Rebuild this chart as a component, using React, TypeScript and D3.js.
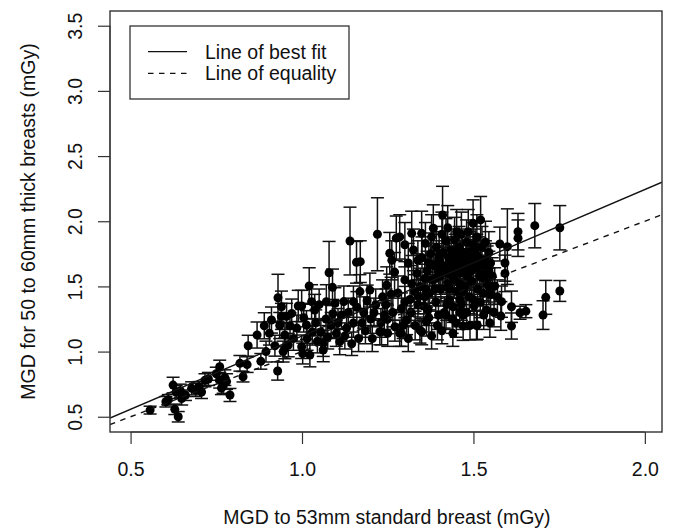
import React, { useEffect, useRef } from "react";
import * as d3 from "d3";

// MGD to 53mm standard breast (x), MGD for 50-60mm breasts (y), error bar half-length
const xVals = [
  0.557, 0.603, 0.61, 0.629, 0.639, 0.624, 0.633, 0.645, 0.649, 0.66,
  0.678, 0.69, 0.707, 0.7, 0.717, 0.727, 0.75, 0.76, 0.76, 0.77,
  0.78, 0.765, 0.79, 0.775, 0.819, 0.828, 0.84, 0.843, 0.869, 0.88,
  0.89, 0.911, 0.921, 0.929, 0.93, 0.94, 0.94, 0.945, 0.95, 0.95,
  0.955, 0.965, 0.97, 0.975, 0.989, 0.999, 0.999, 1.002, 1.013, 1.021,
  1.028, 1.037, 1.023, 1.03, 1.045, 1.062, 1.062, 1.071, 1.07, 1.079,
  1.089, 1.085, 1.096, 1.1, 1.11, 1.115, 1.122, 1.14, 1.13, 1.15,
  1.15, 1.159, 1.17, 1.169, 1.165, 1.18, 1.185, 1.198, 1.2, 1.22,
  1.215, 1.227, 1.235, 1.247, 1.24, 1.256, 1.262, 1.27, 1.271, 1.275,
  1.285, 1.285, 1.28, 1.29, 1.3, 1.305, 1.31, 1.32, 1.315, 1.325,
  1.33, 1.335, 1.344, 1.349, 1.349, 1.345, 1.35, 1.355, 1.363, 1.36,
  1.365, 1.37, 1.372, 1.375, 1.38, 1.383, 1.385, 1.39, 1.392, 1.395,
  1.4, 1.402, 1.405, 1.41, 1.412, 1.415, 1.418, 1.42, 1.425, 1.428,
  1.43, 1.432, 1.435, 1.438, 1.441, 1.442, 1.445, 1.448, 1.451, 1.452,
  1.455, 1.458, 1.46, 1.462, 1.465, 1.468, 1.47, 1.47, 1.472, 1.475,
  1.478, 1.48, 1.482, 1.485, 1.488, 1.49, 1.492, 1.495, 1.499, 1.5,
  1.502, 1.505, 1.508, 1.511, 1.512, 1.515, 1.518, 1.521, 1.522, 1.525,
  1.528, 1.53, 1.535, 1.538, 1.54, 1.545, 1.55, 1.562, 1.577, 1.599,
  1.63, 1.63, 1.679, 1.752, 1.592, 1.592, 1.582, 1.58, 1.611, 1.611,
  1.636, 1.653, 1.711, 1.703, 1.752, 1.005, 1.015, 1.04, 1.05, 1.055,
  1.075, 1.09, 1.105, 1.125, 1.135, 1.145, 1.16, 1.175, 1.19, 1.205,
  1.21, 1.23, 1.245, 1.25, 1.26, 1.265, 1.295, 1.3, 1.31, 1.318,
  1.328, 1.338, 1.358, 1.368, 1.378, 1.388, 1.398, 1.408, 1.422, 1.44,
  1.45, 1.46, 1.48, 1.49, 1.52, 1.548, 1.53, 1.56, 1.57, 1.3,
  1.338, 1.358, 1.378, 1.398, 1.408, 1.425, 1.445, 1.465, 1.485, 1.51,
  1.535, 1.545, 1.55, 1.555, 0.985, 0.96, 0.935, 0.905, 0.895, 1.232,
  1.29, 1.509, 1.249, 1.42, 1.43, 1.44, 1.45, 1.46, 1.47, 1.48,
  1.49, 1.5, 1.51, 1.44, 1.46, 1.48, 1.5, 1.52, 1.4, 1.41,
  1.39, 1.37, 1.36, 1.34, 1.32, 1.53, 1.54, 1.545, 1.47, 1.43,
  1.5, 1.42, 1.46,
];
const yVals = [
  0.551, 0.615, 0.63, 0.557, 0.5, 0.743, 0.69, 0.7, 0.64, 0.665,
  0.718, 0.705, 0.69, 0.73, 0.78, 0.79, 0.83, 0.884, 0.78, 0.74,
  0.77, 0.72, 0.667, 0.8, 0.91, 0.807, 0.9, 1.045, 1.127, 0.925,
  1.198, 1.242, 1.045, 0.851, 1.413, 1.344, 1.27, 1.0, 1.127, 1.025,
  1.27, 1.198, 1.293, 1.1, 1.35, 1.35, 1.037, 0.985, 1.204, 1.503,
  1.383, 1.319, 0.973, 1.15, 1.08, 1.012, 1.063, 1.383, 1.25, 1.605,
  1.493, 1.2, 1.37, 1.14, 1.076, 1.28, 1.383, 1.848, 1.18, 1.383,
  1.22, 1.685, 1.69, 1.46, 1.1, 1.3, 1.16, 1.472, 1.25, 1.9,
  1.36, 1.152, 1.42, 1.51, 1.28, 1.754, 1.7, 1.61, 1.19, 1.87,
  1.88, 1.14, 1.45, 1.33, 1.55, 1.24, 1.68, 1.907, 1.4, 1.78,
  1.2, 1.6, 1.165, 1.907, 1.152, 1.5, 1.72, 1.35, 1.229, 1.83,
  1.62, 1.26, 1.45, 1.75, 1.55, 1.946, 1.66, 1.38, 1.8, 1.2,
  1.7, 1.58, 1.48, 2.048, 1.76, 1.3, 1.65, 1.85, 1.52, 1.72,
  1.4, 1.62, 1.78, 1.25, 1.344, 1.68, 1.55, 1.74, 1.92, 1.46,
  1.66, 1.8, 1.6, 1.7, 1.36, 1.75, 1.196, 1.28, 1.64, 1.5,
  1.72, 1.84, 1.58, 1.68, 1.42, 1.76, 1.62, 1.54, 1.984, 1.7,
  1.35, 1.78, 1.64, 1.204, 1.48, 1.72, 1.58, 2.01, 1.66, 1.8,
  1.447, 1.6, 1.7, 1.319, 1.52, 1.62, 1.44, 1.503, 1.825, 1.805,
  1.92, 1.87, 1.966, 1.95, 1.68, 1.6, 1.383, 1.273, 1.344, 1.196,
  1.298, 1.31, 1.416, 1.28, 1.465, 1.26, 1.1, 1.22, 1.36, 1.15,
  1.11, 1.29, 1.22, 1.12, 1.3, 1.06, 1.34, 1.22, 1.39, 1.1,
  1.3, 1.22, 1.36, 1.14, 1.44, 1.3, 1.2, 1.38, 1.1, 1.3,
  1.46, 1.36, 1.42, 1.32, 1.12, 1.48, 1.28, 1.16, 1.36, 1.14,
  1.22, 1.4, 1.3, 1.2, 1.38, 1.22, 1.28, 1.3, 1.42, 1.82,
  1.7, 1.56, 1.88, 1.62, 1.9, 1.95, 1.86, 1.9, 1.92, 1.88,
  1.84, 1.76, 1.68, 1.58, 1.18, 1.05, 1.2, 1.14, 1.0, 1.152,
  1.14, 1.2, 1.247, 1.6, 1.7, 1.64, 1.72, 1.78, 1.68, 1.62,
  1.7, 1.64, 1.74, 1.58, 1.52, 1.76, 1.82, 1.7, 1.74, 1.66,
  1.56, 1.68, 1.48, 1.42, 1.52, 1.56, 1.66, 1.5, 1.46, 1.48,
  1.4, 1.28, 1.3,
];
const errVals = [
  0.03, 0.04, 0.04, 0.04, 0.04, 0.06, 0.05, 0.05, 0.05, 0.04,
  0.05, 0.05, 0.05, 0.04, 0.05, 0.05, 0.05, 0.05, 0.06, 0.06,
  0.06, 0.05, 0.05, 0.06, 0.06, 0.04, 0.06, 0.08, 0.1, 0.06,
  0.1, 0.1, 0.08, 0.07, 0.18, 0.12, 0.1, 0.08, 0.09, 0.08,
  0.1, 0.1, 0.11, 0.09, 0.12, 0.12, 0.09, 0.08, 0.11, 0.14,
  0.13, 0.12, 0.09, 0.1, 0.09, 0.09, 0.1, 0.13, 0.11, 0.24,
  0.14, 0.1, 0.12, 0.1, 0.1, 0.11, 0.12, 0.26, 0.1, 0.12,
  0.11, 0.16, 0.16, 0.13, 0.1, 0.12, 0.1, 0.13, 0.11, 0.28,
  0.12, 0.1, 0.13, 0.14, 0.11, 0.16, 0.15, 0.15, 0.11, 0.17,
  0.17, 0.1, 0.13, 0.12, 0.14, 0.11, 0.15, 0.17, 0.13, 0.16,
  0.11, 0.15, 0.1, 0.17, 0.1, 0.14, 0.16, 0.12, 0.11, 0.16,
  0.15, 0.11, 0.13, 0.16, 0.14, 0.18, 0.15, 0.12, 0.16, 0.11,
  0.15, 0.14, 0.13, 0.22, 0.16, 0.12, 0.15, 0.17, 0.14, 0.16,
  0.13, 0.15, 0.16, 0.11, 0.12, 0.15, 0.14, 0.16, 0.17, 0.13,
  0.15, 0.16, 0.15, 0.15, 0.12, 0.16, 0.11, 0.11, 0.15, 0.14,
  0.16, 0.17, 0.14, 0.15, 0.13, 0.16, 0.15, 0.14, 0.18, 0.15,
  0.12, 0.16, 0.15, 0.11, 0.13, 0.16, 0.14, 0.18, 0.15, 0.16,
  0.13, 0.14, 0.15, 0.12, 0.14, 0.15, 0.13, 0.14, 0.13, 0.29,
  0.14, 0.14, 0.17, 0.17, 0.14, 0.14, 0.12, 0.11, 0.12, 0.1,
  0.05, 0.05, 0.13, 0.11, 0.08, 0.11, 0.09, 0.1, 0.12, 0.1,
  0.09, 0.11, 0.11, 0.1, 0.11, 0.09, 0.12, 0.11, 0.12, 0.1,
  0.11, 0.11, 0.12, 0.1, 0.13, 0.11, 0.1, 0.12, 0.1, 0.11,
  0.13, 0.12, 0.13, 0.12, 0.1, 0.13, 0.11, 0.1, 0.12, 0.1,
  0.11, 0.12, 0.11, 0.11, 0.12, 0.11, 0.11, 0.11, 0.13, 0.17,
  0.15, 0.14, 0.17, 0.15, 0.17, 0.17, 0.17, 0.17, 0.17, 0.17,
  0.16, 0.16, 0.15, 0.14, 0.1, 0.09, 0.1, 0.09, 0.08, 0.1,
  0.1, 0.11, 0.11, 0.15, 0.16, 0.15, 0.16, 0.16, 0.15, 0.15,
  0.16, 0.15, 0.16, 0.14, 0.14, 0.16, 0.17, 0.15, 0.16, 0.15,
  0.14, 0.15, 0.13, 0.13, 0.14, 0.14, 0.15, 0.14, 0.13, 0.13,
  0.12, 0.11, 0.11,
];

const xTicks = [0.5, 1.0, 1.5, 2.0];
const yTicks = [0.5, 1.0, 1.5, 2.0, 2.5, 3.0, 3.5];
const legendLabels = ["Line of best fit", "Line of equality"];
const fitIntercept = -0.005;
const fitSlope = 1.124;

const W = 673;
const H = 529;
const FONT = "'Liberation Sans', Arial, sans-serif";

const drawChart = (el: SVGSVGElement) => {
  const svg = d3.select(el);
  svg.selectAll("*").remove();

  const x = d3.scaleLinear().domain([0.44, 2.05]).range([110, 662]);
  const y = d3.scaleLinear().domain([0.383, 3.613]).range([432, 11]);
  const ink = "#111";

  const plot = svg.append("g");
  plot
    .append("clipPath")
    .attr("id", "plot-clip")
    .append("rect")
    .attr("x", 110)
    .attr("y", 11)
    .attr("width", 552)
    .attr("height", 421);

  const pts = xVals.map((v, i) => ({ x: v, y: yVals[i], e: errVals[i] }));

  // error bars
  const bars = plot.append("g").attr("stroke", ink).attr("stroke-width", 1.5);
  pts.forEach((d) => {
    const cx = x(d.x);
    const y0 = y(d.y - d.e);
    const y1 = y(d.y + d.e);
    bars.append("line").attr("x1", cx).attr("x2", cx).attr("y1", y0).attr("y2", y1);
    bars.append("line").attr("x1", cx - 6.5).attr("x2", cx + 6.5).attr("y1", y0).attr("y2", y0);
    bars.append("line").attr("x1", cx - 6.5).attr("x2", cx + 6.5).attr("y1", y1).attr("y2", y1);
  });

  plot
    .append("g")
    .selectAll("circle")
    .data(pts)
    .enter()
    .append("circle")
    .attr("cx", (d) => x(d.x))
    .attr("cy", (d) => y(d.y))
    .attr("r", 4.5)
    .attr("fill", "#000");

  // fit and equality lines
  const [x0, x1] = x.domain();
  const lines = plot.append("g").attr("clip-path", "url(#plot-clip)").attr("fill", "none");
  lines
    .append("line")
    .attr("x1", x(x0))
    .attr("y1", y(fitIntercept + fitSlope * x0))
    .attr("x2", x(x1))
    .attr("y2", y(fitIntercept + fitSlope * x1))
    .attr("stroke", ink)
    .attr("stroke-width", 1.4);
  lines
    .append("line")
    .attr("x1", x(x0))
    .attr("y1", y(x0))
    .attr("x2", x(x1))
    .attr("y2", y(x1))
    .attr("stroke", ink)
    .attr("stroke-width", 1.4)
    .attr("stroke-dasharray", "5.5,5.5");

  // box
  svg
    .append("rect")
    .attr("x", 110)
    .attr("y", 11)
    .attr("width", 552)
    .attr("height", 421)
    .attr("fill", "none")
    .attr("stroke", "#333")
    .attr("stroke-width", 1.4);

  // axes
  const xAxis = svg
    .append("g")
    .attr("transform", "translate(0,432)")
    .call(d3.axisBottom(x).tickValues(xTicks).tickSize(12).tickSizeOuter(0).tickPadding(0).tickFormat(d3.format(".1f")));
  xAxis.select(".domain").attr("d", `M${x(xTicks[0])},0H${x(xTicks[xTicks.length - 1])}`).attr("stroke", "#333");
  xAxis.selectAll(".tick line").attr("stroke", "#333").attr("stroke-width", 1.2);
  xAxis
    .selectAll(".tick text")
    .attr("y", 44)
    .attr("dy", null)
    .attr("font-size", 19.5)
    .attr("font-family", FONT)
    .attr("fill", ink);

  const yAxis = svg
    .append("g")
    .attr("transform", "translate(110,0)")
    .call(d3.axisLeft(y).tickValues(yTicks).tickSize(12).tickSizeOuter(0).tickFormat(d3.format(".1f")));
  yAxis.select(".domain").attr("d", `M0,${y(yTicks[0])}V${y(yTicks[yTicks.length - 1])}`).attr("stroke", "#333");
  yAxis.selectAll(".tick line").attr("stroke", "#333").attr("stroke-width", 1.2);
  yAxis
    .selectAll(".tick text")
    .attr("x", null)
    .attr("dy", null)
    .attr("transform", "translate(-28,0) rotate(-90)")
    .attr("text-anchor", "middle")
    .attr("font-size", 19.5)
    .attr("font-family", FONT)
    .attr("fill", ink);

  // axis titles
  svg
    .append("text")
    .attr("x", 387)
    .attr("y", 524)
    .attr("text-anchor", "middle")
    .attr("font-size", 19.5)
    .attr("font-family", FONT)
    .attr("fill", ink)
    .text("MGD to 53mm standard breast (mGy)");
  svg
    .append("text")
    .attr("transform", "translate(35,221.5) rotate(-90)")
    .attr("text-anchor", "middle")
    .attr("font-size", 19.5)
    .attr("font-family", FONT)
    .attr("fill", ink)
    .text("MGD for 50 to 60mm thick breasts (mGy)");

  // legend
  const legend = svg.append("g");
  legend
    .append("rect")
    .attr("x", 130)
    .attr("y", 26)
    .attr("width", 219)
    .attr("height", 73)
    .attr("fill", "#fff")
    .attr("stroke", "#333")
    .attr("stroke-width", 1.3);
  legendLabels.forEach((label, i) => {
    const ly = 51.7 + i * 21.6;
    legend
      .append("line")
      .attr("x1", 148)
      .attr("x2", 187)
      .attr("y1", ly)
      .attr("y2", ly)
      .attr("stroke", ink)
      .attr("stroke-width", 1.3)
      .attr("stroke-dasharray", i === 1 ? "5.5,5.5" : null);
    legend
      .append("text")
      .attr("x", 205)
      .attr("y", ly + 7)
      .attr("font-size", 19.5)
      .attr("font-family", FONT)
      .attr("fill", ink)
      .text(label);
  });
};

const App = () => {
  const ref = useRef<SVGSVGElement>(null);
  useEffect(() => {
    document.body.style.margin = "0";
    if (ref.current) drawChart(ref.current);
  }, []);
  return <svg ref={ref} width={W} height={H} style={{ display: "block", background: "#fff" }} />;
};

export default App;
